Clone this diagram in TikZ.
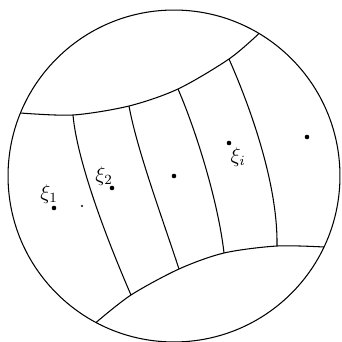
\documentclass[tikz,border=0pt]{standalone}
\usetikzlibrary{positioning}
\begin{document}
\begin{tikzpicture}[
    x=0.02cm, y=-0.02cm,
    edge/.style={line width=0.6pt, line join=round},
    pt/.style={circle, fill, inner sep=0pt, minimum size=2.6pt},
    speck/.style={circle, fill, inner sep=0pt, minimum size=1.2pt},
    lbl/.style={font=\large, inner sep=0pt}
]
\useasboundingbox (0,0) rectangle (342,342);
% boundary of the domain
\draw[edge] (174,176) circle[radius=3.32cm];

% ends of the two cross arcs and the strip boundaries
\coordinate (u0) at (20.5,113);
\coordinate (u1) at (73,115);
\coordinate (u2) at (129,106);
\coordinate (u3) at (178,89);
\coordinate (u4) at (229,59);
\coordinate (u5) at (259,33.5);
\coordinate (l0) at (96,322.5);
\coordinate (l1) at (131,295);
\coordinate (l2) at (179,269);
\coordinate (l3) at (224,253);
\coordinate (l4) at (277,246);
\coordinate (l5) at (324,247);

\draw[edge] plot[smooth] coordinates {(u0) (u1) (u2) (u3) (u4) (u5)};
\draw[edge] plot[smooth] coordinates {(l0) (l1) (l2) (l3) (l4) (l5)};

\draw[edge] (u1) .. controls (77,160) and (105,235) .. (l1);
\draw[edge] (u2) .. controls (137,150) and (163,220) .. (l2);
\draw[edge] (u3) .. controls (195,128) and (218,200) .. (l3);
\draw[edge] (u4) .. controls (255,118) and (278,190) .. (l4);

% sample points
\node[pt] (p1) at (54,208) {};
\node[pt] (p2) at (112,188) {};
\node[pt] (p3) at (174,176) {};
\node[pt] (pi) at (229,143) {};
\node[pt] (p5) at (307,137) {};
\node[speck] (sp) at (82,206) {};

\node[lbl] (x1) at (49,194) {$\xi_1$};
\node[lbl] (x2) at (104,176) {$\xi_2$};
\node[lbl] (xi) at (238,157) {$\xi_i$};
\end{tikzpicture}
\end{document}
